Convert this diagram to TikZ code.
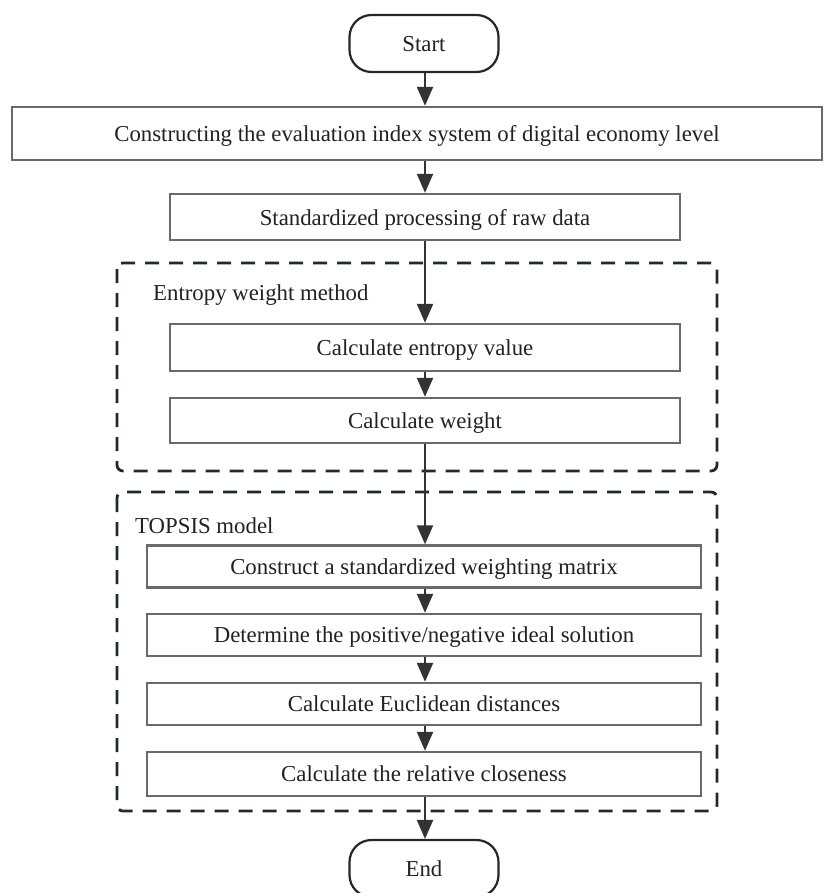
\documentclass[tikz,border=0pt]{standalone}
\usepackage{fontspec}
\setmainfont{Liberation Serif}
\usetikzlibrary{arrows.meta,positioning}
\definecolor{boxgray}{HTML}{6A6A6A}
\definecolor{dashcol}{HTML}{1E2A33}
\definecolor{txt}{HTML}{222222}
\begin{document}
\begin{tikzpicture}[x=1pt,y=-1pt,
  every node/.style={font=\fontsize{22.8}{26}\selectfont, text=txt},
  procbox/.style={draw=boxgray, line width=2.4pt, fill=white, minimum height=#1, inner sep=0pt, text depth=0pt},
  procbox/.default=46pt,
  termbox/.style={draw=black!85, line width=2.2pt, rounded corners=22pt, minimum width=149pt, minimum height=57pt, fill=white, text depth=0pt},
  grp/.style={draw=dashcol, line width=2.8pt, dash pattern=on 14pt off 10pt, rounded corners=6pt},
  grplabel/.style={anchor=base west, inner sep=0pt},
  flow/.style={draw=black!80, line width=2.2pt, -{Triangle[length=19pt,width=16pt]}}]
\useasboundingbox (0,0) rectangle (826,893);
\clip (0,0) rectangle (826,893);
% groups
\draw[grp] (117,263) rectangle (717,471);
\draw[grp] (117,492) rectangle (717,811);
\node[grplabel] (lab1) at (153,300) {Entropy weight method};
\node[grplabel] (lab2) at (135,533) {TOPSIS model};
% nodes
\node[termbox] (start) at (424,43.5) {Start};
\node[procbox=53pt, minimum width=810pt] (b1) at (417,133.5) {Constructing the evaluation index system of digital economy level};
\node[procbox=46pt, minimum width=510pt] (b2) at (425,217) {Standardized processing of raw data};
\node[procbox=47pt, minimum width=510pt] (b3) at (425,347.5) {Calculate entropy value};
\node[procbox=45pt, minimum width=510pt] (b4) at (425,420.5) {Calculate weight};
\node[procbox=42pt, minimum width=554pt] (b5) at (424,566.5) {Construct a standardized weighting matrix};
\node[procbox=42pt, minimum width=554pt] (b6) at (424,635) {Determine the positive/negative ideal solution};
\node[procbox=42pt, minimum width=554pt] (b7) at (424,704) {Calculate Euclidean distances};
\node[procbox=44pt, minimum width=554pt] (b8) at (424,774) {Calculate the relative closeness};
\node[termbox] (end) at (424,868.5) {End};
% connectors
\draw[flow] (start.south -| 425,0) -- (b1.north -| 425,0);
\draw[flow] (b1.south -| 425,0) -- (b2.north -| 425,0);
\draw[flow] (b2.south -| 425,0) -- (b3.north -| 425,0);
\draw[flow] (b3.south -| 425,0) -- (b4.north -| 425,0);
\draw[flow] (b4.south -| 425,0) -- (b5.north -| 425,0);
\draw[flow] (b5.south -| 425,0) -- (b6.north -| 425,0);
\draw[flow] (b6.south -| 425,0) -- (b7.north -| 425,0);
\draw[flow] (b7.south -| 425,0) -- (b8.north -| 425,0);
\draw[flow] (b8.south -| 425,0) -- (end.north -| 425,0);
\end{tikzpicture}
\end{document}
